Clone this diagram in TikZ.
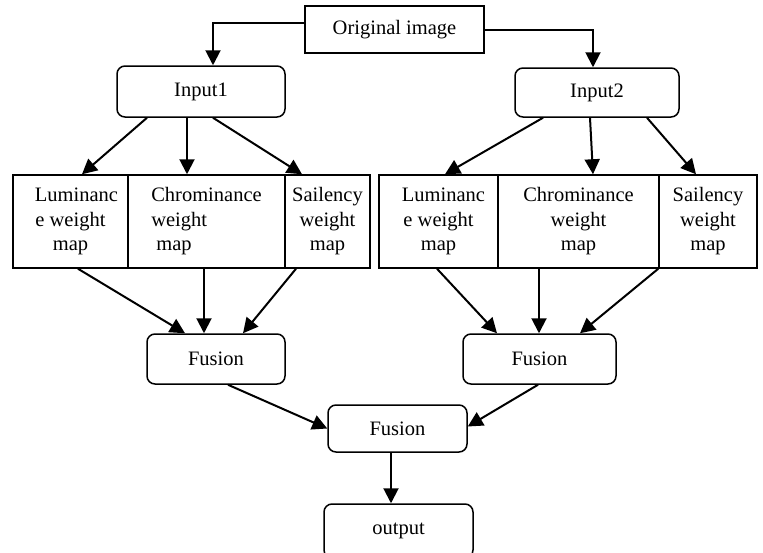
\documentclass[tikz,border=0pt]{standalone}
\usepackage{fontspec}
\setmainfont{Liberation Serif}
\usetikzlibrary{arrows.meta}

\tikzset{
  txt/.style={font=\fontsize{20.5}{24.5}\selectfont},
  sqbox/.style={txt,draw,line width=1.5pt,inner sep=0pt},
  rbox/.style={sqbox,rounded corners=8pt},
  arr/.style={line width=2pt,-{Triangle[length=15pt,width=15pt]}}
}

\begin{document}
\begin{tikzpicture}[x=1pt,y=-1pt]

     \clip (0,0) rectangle (763,552);

     %Source
     \node[sqbox,minimum width=179pt,minimum height=47pt] (orig) at (394.5,29.5) {Original image};
     \node[rbox,minimum width=168pt,minimum height=51pt] (in1) at (201,91.5) {Input1};
     \node[rbox,minimum width=164pt,minimum height=49pt] (in2) at (597,92.5) {Input2};

     %Weight maps 1
     \node[sqbox,align=center,minimum width=115pt,minimum height=93pt] (lumA) at (70.5,221.5) {\hspace{12pt}Luminanc\\e weight\\map};
     \node[sqbox,align=left,minimum width=157pt,minimum height=93pt] (chrA) at (206.5,221.5) {Chrominance\\weight\\\ map};
     \node[sqbox,align=center,minimum width=85pt,minimum height=93pt] (salA) at (327.5,221.5) {Sailency\\weight\\map};

     %Weight maps 2
     \node[sqbox,align=center,minimum width=119pt,minimum height=93pt] (lumB) at (438.5,221.5) {\hspace{10pt}Luminanc\\e weight\\map};
     \node[sqbox,align=center,minimum width=161pt,minimum height=93pt] (chrB) at (578.5,221.5) {Chrominance\\weight\\map};
     \node[sqbox,align=center,minimum width=98pt,minimum height=93pt] (salB) at (708,221.5) {Sailency\\weight\\map};

     %Fusion
     \node[rbox,minimum width=138pt,minimum height=50pt] (fusA) at (216,359) {Fusion};
     \node[rbox,minimum width=153pt,minimum height=50pt] (fusB) at (539.5,359) {Fusion};
     \node[rbox,minimum width=139pt,minimum height=47pt] (fusC) at (397.5,428.5) {Fusion};
     \node[rbox,minimum width=149pt,minimum height=54pt] (out) at (398.5,531) {output};

     \draw[arr] ([yshift=6.5pt]orig.west) -| ([xshift=12pt]in1.north);
     \draw[arr] ([yshift=-0.5pt]orig.east) -| ([xshift=-4pt]in2.north);

     \draw[arr] ([xshift=-54pt]in1.south) -- ([xshift=11.5pt]lumA.north);
     \draw[arr] ([xshift=-14pt]in1.south) -- ([xshift=-19.5pt]chrA.north);
     \draw[arr] ([xshift=12pt]in1.south) -- ([xshift=-25.5pt]salA.north);

     \draw[arr] ([xshift=-54pt]in2.south) -- ([xshift=6.5pt]lumB.north);
     \draw[arr] ([xshift=-7pt]in2.south) -- ([xshift=14.5pt]chrB.north);
     \draw[arr] ([xshift=50pt]in2.south) -- ([xshift=-12pt]salB.north);

     \draw[arr] ([xshift=7.5pt]lumA.south) -- ([xshift=-31pt]fusA.north);
     \draw[arr] ([xshift=-2.5pt]chrA.south) -- ([xshift=-12pt]fusA.north);
     \draw[arr] ([xshift=-31.5pt]salA.south) -- ([xshift=27pt]fusA.north);

     \draw[arr] ([xshift=-1.5pt]lumB.south) -- ([xshift=-42.5pt]fusB.north);
     \draw[arr] ([xshift=-39.5pt]chrB.south) -- ([xshift=-0.5pt]fusB.north);
     \draw[arr] (salB.south west) -- ([xshift=40.5pt]fusB.north);

     \draw[arr] ([xshift=12pt]fusA.south) -- (fusC.west);
     \draw[arr] ([xshift=-1.5pt]fusB.south) -- ([yshift=2pt]fusC.east);
     \draw[arr] ([xshift=-6.5pt]fusC.south) -- ([xshift=-7.5pt]out.north);

\end{tikzpicture}
\end{document}
